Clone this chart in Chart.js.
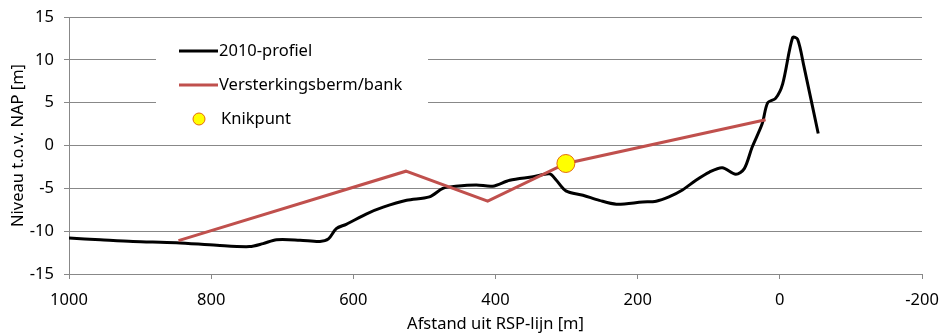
<!DOCTYPE html>
<html>
<head>
<meta charset="utf-8">
<script src="https://cdn.jsdelivr.net/npm/chart.js@4/dist/chart.umd.min.js"></script>
<style>
  html, body { margin: 0; padding: 0; background: #fff; }
  #wrap { width: 939px; height: 334px; }
</style>
</head>
<body>
<div id="wrap"><canvas id="profielChart"></canvas></div>
<script>
// profiel 2010 (afstand uit RSP-lijn, niveau t.o.v. NAP)
const profielX = [1000, 956, 910, 849, 792, 746, 727, 708, 675, 647, 635, 624, 610, 582, 558, 525, 493, 474, 456, 427, 404, 380, 347, 324, 315, 301, 277, 254, 230, 193, 174, 156, 137, 118, 99, 81, 62, 50, 39, 25, 17, 6, -4, -18, -25, -34, -54];
const profielY = [-10.8, -11.0, -11.2, -11.35, -11.65, -11.8, -11.45, -11.0, -11.05, -11.2, -10.9, -9.7, -9.2, -8.0, -7.2, -6.4, -6.0, -5.0, -4.75, -4.6, -4.75, -4.05, -3.65, -3.3, -4.0, -5.3, -5.8, -6.4, -6.85, -6.6, -6.5, -6.0, -5.2, -4.05, -3.1, -2.6, -3.35, -2.7, -0.2, 2.5, 5.0, 5.5, 7.2, 12.6, 12.4, 9.2, 1.4];

// versterkingsberm/bank
const bermX = [846, 526, 411, 301, 20];
const bermY = [-11.1, -3.0, -6.5, -2.1, 3.0];

// knikpunt
const knikX = [301];
const knikY = [-2.1];

const xTicks = [1000, 800, 600, 400, 200, 0, -200];
const yTicks = [-15, -10, -5, 0, 5, 10, 15];

const legendLabels = ['2010-profiel', 'Versterkingsberm/bank', 'Knikpunt'];

const FONT = '"Noto Sans", sans-serif';
const GRID = '#888888';

function toPoints(xs, ys) {
    return xs.map((x, i) => ({ x: x, y: ys[i] }));
}

// legenda binnen het grafiekvlak, met witte achtergrond over de rasterlijnen
const legendBox = {
    id: 'legendBox',
    beforeDatasetsDraw(chart) {
        const ctx = chart.ctx;
        ctx.save();
        ctx.fillStyle = '#fff';
        ctx.fillRect(156, 26, 272, 110);
        ctx.font = '16.5px ' + FONT;
        ctx.textBaseline = 'middle';
        const rows = [51, 85, 119];
        // lijn 2010-profiel
        ctx.lineWidth = 3;
        ctx.strokeStyle = '#000';
        ctx.beginPath(); ctx.moveTo(179, rows[0]); ctx.lineTo(218, rows[0]); ctx.stroke();
        // lijn berm
        ctx.strokeStyle = '#C0504D';
        ctx.beginPath(); ctx.moveTo(179, rows[1]); ctx.lineTo(218, rows[1]); ctx.stroke();
        // knikpunt
        ctx.lineWidth = 1;
        ctx.fillStyle = '#FFFF00';
        ctx.strokeStyle = '#E46C0A';
        ctx.beginPath(); ctx.arc(199, rows[2], 6, 0, Math.PI * 2); ctx.fill(); ctx.stroke();
        ctx.fillStyle = '#000';
        ctx.fillText(legendLabels[0], 219, rows[0]);
        ctx.fillText(legendLabels[1], 219, rows[1]);
        ctx.fillText(legendLabels[2], 221, rows[2]);
        ctx.restore();
    }
};

const ctx = document.getElementById('profielChart').getContext('2d');
const profielChart = new Chart(ctx, {
    type: 'line',
    data: {
        datasets: [{
            label: legendLabels[0],
            data: toPoints(profielX, profielY),
            borderColor: '#000',
            borderWidth: 3,
            pointRadius: 0,
            tension: 0.3,
            order: 3
        }, {
            label: legendLabels[1],
            data: toPoints(bermX, bermY),
            borderColor: '#C0504D',
            borderWidth: 3,
            pointRadius: 0,
            tension: 0,
            order: 2
        }, {
            label: legendLabels[2],
            data: toPoints(knikX, knikY),
            showLine: false,
            pointRadius: 9,
            pointBackgroundColor: '#FFFF00',
            pointBorderColor: '#E46C0A',
            pointBorderWidth: 1,
            order: 1
        }]
    },
    options: {
        responsive: true,
        maintainAspectRatio: false,
        animation: false,
        layout: { padding: { top: 17, right: 17, left: 0, bottom: 0 } },
        plugins: {
            legend: { display: false },
            tooltip: { enabled: false }
        },
        scales: {
            x: {
                type: 'linear',
                reverse: true,
                min: -200,
                max: 1000,
                afterBuildTicks: (s) => { s.ticks = xTicks.map(v => ({ value: v })); },
                afterFit: (s) => { s.height = 60; s.paddingLeft = 0; s.paddingRight = 0; },
                grid: { drawOnChartArea: false, drawTicks: true, tickLength: 5, color: GRID },
                border: { display: true, color: GRID },
                ticks: { color: '#000', font: { family: FONT, size: 16.5 }, padding: 11, maxRotation: 0, callback: (v) => String(v) },
                title: { display: true, text: 'Afstand uit RSP-lijn [m]', color: '#000', font: { family: FONT, size: 16.5 }, padding: { top: 0, bottom: 0 } }
            },
            y: {
                min: -15,
                max: 15,
                afterBuildTicks: (s) => { s.ticks = yTicks.map(v => ({ value: v })); },
                afterFit: (s) => { s.width = 69; s.paddingTop = 0; s.paddingBottom = 0; },
                grid: { color: GRID, drawTicks: true, tickLength: 5 },
                border: { display: true, color: GRID },
                ticks: { color: '#000', font: { family: FONT, size: 16.5 }, padding: 10, callback: (v) => String(v) },
                title: { display: true, text: 'Niveau t.o.v. NAP [m]', color: '#000', font: { family: FONT, size: 16.5 }, padding: { top: 8, bottom: 0 } }
            }
        }
    },
    plugins: [legendBox]
});
</script>
</body>
</html>
